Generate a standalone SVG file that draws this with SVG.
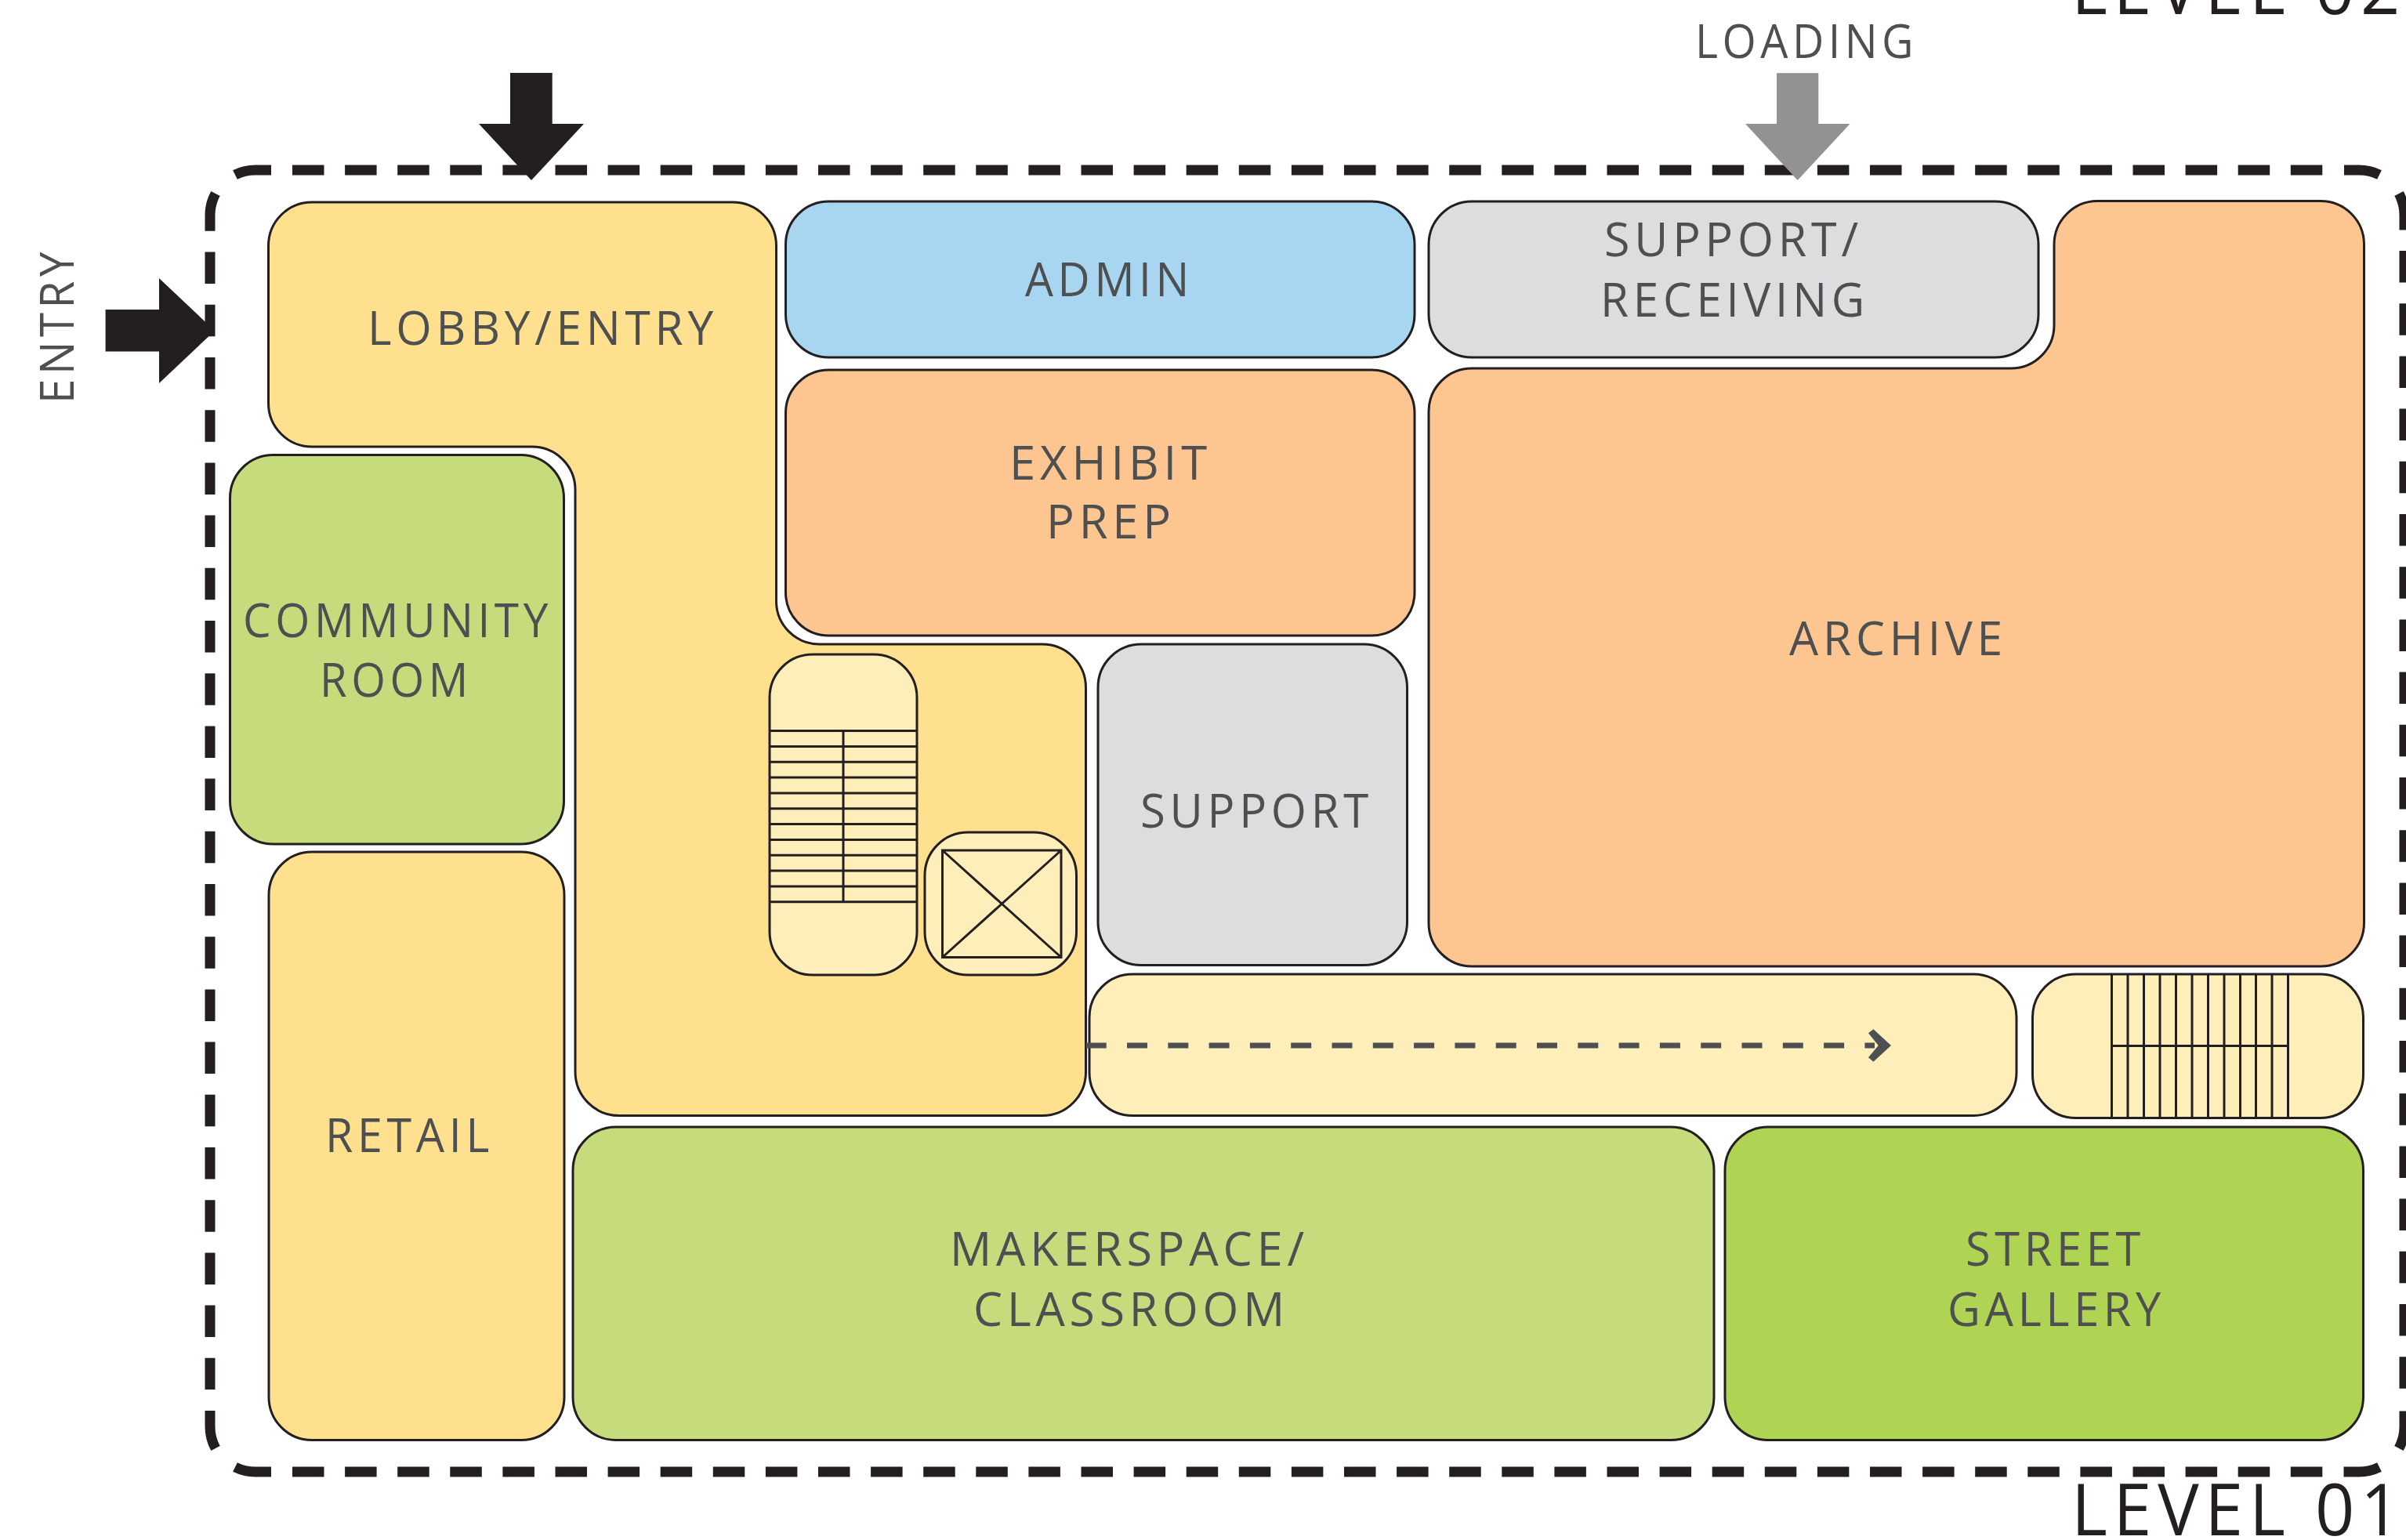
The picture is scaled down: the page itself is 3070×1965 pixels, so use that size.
<svg xmlns="http://www.w3.org/2000/svg" width="3070" height="1965" viewBox="0 0 3070 1965">
<style>
.r{stroke:#231f20;stroke-width:3}
.lobby{fill:#fee08e}.light{fill:#feeeb9}.lime{fill:#c6dc7c}.orange{fill:#fdc590}.blue{fill:#a8d5f0}.gray{fill:#dcdddf}.green{fill:#afd352}
.t{font-family:"Open Sans","Liberation Sans",sans-serif;font-size:61px;font-weight:500;letter-spacing:6px;fill:#4d4f51}
.lvl{font-family:"Open Sans","Liberation Sans",sans-serif;font-size:92px;font-weight:500;letter-spacing:8px;fill:#231f20}
.l{stroke:#231f20;stroke-width:3;fill:none}
.d{stroke:#231f20;stroke-width:13;fill:none}
</style>
<rect width="3070" height="1965" fill="#fff"/>
<g id="lobby-entry"><path class="r lobby" d="M398 258H935A55.500 55.500 0 0 1 990.500 313.500V767A55 55 0 0 0 1045.500 822H1330A55.500 55.500 0 0 1 1385.500 877.500V1368A55.500 55.500 0 0 1 1330 1423.500H790A56 56 0 0 1 734 1367.500V625A55 55 0 0 0 679 570H398A55.500 55.500 0 0 1 342.500 514.500V313.500A55.500 55.500 0 0 1 398 258Z"/><text class="t" x="469" y="439.500" textLength="447" lengthAdjust="spacingAndGlyphs">LOBBY/ENTRY</text></g>
<g id="admin"><rect class="r blue" x="1002.500" y="257" width="802.500" height="199" rx="55"/><text class="t" x="1308" y="378" textLength="215" lengthAdjust="spacingAndGlyphs">ADMIN</text></g>
<g id="exhibit-prep"><rect class="r orange" x="1002.500" y="472" width="802.500" height="339" rx="55"/><text class="t" x="1288" y="612" textLength="258" lengthAdjust="spacingAndGlyphs">EXHIBIT</text><text class="t" x="1335" y="687" textLength="165" lengthAdjust="spacingAndGlyphs">PREP</text></g>
<g id="support-receiving"><rect class="r gray" x="1823" y="257" width="778" height="199" rx="55"/><text class="t" x="2047" y="326.500" textLength="330" lengthAdjust="spacingAndGlyphs">SUPPORT/</text><text class="t" x="2042" y="404" textLength="343" lengthAdjust="spacingAndGlyphs">RECEIVING</text></g>
<g id="archive"><path class="r orange" d="M2676 256.500H2961A55.500 55.500 0 0 1 3016.500 312V1177.500A55.500 55.500 0 0 1 2961 1233H1878A55 55 0 0 1 1823 1178V525A55 55 0 0 1 1878 470H2566A55 55 0 0 0 2621 415V312A55.500 55.500 0 0 1 2676 256.500Z"/><text class="t" x="2283" y="836" textLength="278" lengthAdjust="spacingAndGlyphs">ARCHIVE</text></g>
<g id="community-room"><rect class="r lime" x="293.500" y="580.500" width="426" height="496.500" rx="55"/><text class="t" x="310" y="812.500" textLength="395" lengthAdjust="spacingAndGlyphs">COMMUNITY</text><text class="t" x="408" y="889" textLength="195" lengthAdjust="spacingAndGlyphs">ROOM</text></g>
<g id="retail"><rect class="r lobby" x="343" y="1087" width="377" height="750.500" rx="55"/><text class="t" x="415" y="1470" textLength="215" lengthAdjust="spacingAndGlyphs">RETAIL</text></g>
<g id="support"><rect class="r gray" x="1401" y="822" width="394.500" height="409.500" rx="55"/><text class="t" x="1455" y="1056" textLength="297" lengthAdjust="spacingAndGlyphs">SUPPORT</text></g>
<g id="makerspace-classroom"><rect class="r lime" x="731" y="1438" width="1456" height="399.500" rx="55"/><text class="t" x="1212" y="1615" textLength="458" lengthAdjust="spacingAndGlyphs">MAKERSPACE/</text><text class="t" x="1242" y="1691.500" textLength="403" lengthAdjust="spacingAndGlyphs">CLASSROOM</text></g>
<g id="street-gallery"><rect class="r green" x="2201" y="1438" width="814.500" height="399.500" rx="55"/><text class="t" x="2508" y="1615" textLength="229" lengthAdjust="spacingAndGlyphs">STREET</text><text class="t" x="2485" y="1691.500" textLength="278" lengthAdjust="spacingAndGlyphs">GALLERY</text></g>
<g id="corridor"><rect class="r light" x="1390" y="1243" width="1183" height="180.500" rx="55"/></g>
<g id="stair-west"><rect class="r light" x="982" y="835" width="188" height="409" rx="55"/>
<path class="l" d="M982 932.600H1170M982 952.400H1170M982 972.200H1170M982 992.100H1170M982 1011.900H1170M982 1031.700H1170M982 1051.600H1170M982 1071.400H1170M982 1091.200H1170M982 1111H1170M982 1130.900H1170M982 1150.700H1170M1076 932.600V1150.700"/></g>
<g id="elevator"><rect class="r light" x="1180" y="1062" width="193.500" height="182" rx="55"/><path class="l" d="M1202.500 1085H1354V1221.500H1202.500ZM1202.500 1085L1354 1221.500M1354 1085L1202.500 1221.500"/></g>
<g id="stair-east"><rect class="r light" x="2593.500" y="1243" width="422" height="183.500" rx="55"/>
<path class="l" d="M2694.500 1243V1426.500M2715 1243V1426.500M2735.500 1243V1426.500M2756 1243V1426.500M2776.500 1243V1426.500M2797 1243V1426.500M2817.500 1243V1426.500M2838 1243V1426.500M2858.500 1243V1426.500M2878.500 1243V1426.500M2899 1243V1426.500M2919.500 1243V1426.500M2694.500 1334.500H2918"/></g>
<g id="connectors">
<path d="M1385.700 1334H2392" fill="none" stroke="#4d4f51" stroke-width="7" stroke-dasharray="26 26.300"/>
<polygon points="2390.400,1313.300 2413,1334 2390.400,1354.700 2384,1349.300 2396.800,1334 2384,1318.300" fill="#4d4f51"/>
</g>
<g id="boundary">
<path class="d" d="M373 217H2964" stroke-dasharray="40.500 26.600"/>
<path class="d" d="M373 1878H2964" stroke-dasharray="40.500 26.600"/>
<path class="d" d="M268 321.600V1773" stroke-dasharray="40.500 26.700"/>
<path class="d" d="M3068 320V1773" stroke-dasharray="40.500 26.700"/>
<path class="d" d="M346 217H326A58 58 0 0 0 300 223"/>
<path class="d" d="M268 294.700V275A58 58 0 0 1 275 247"/>
<path class="d" d="M2991 217H3010A58 58 0 0 1 3036 223"/>
<path class="d" d="M3068 293.500V275A58 58 0 0 0 3061 247"/>
<path class="d" d="M268 1800V1820A58 58 0 0 0 275 1848"/>
<path class="d" d="M346 1878H326A58 58 0 0 1 300 1872"/>
<path class="d" d="M2990.500 1878H3010A58 58 0 0 0 3036 1872"/>
<path class="d" d="M3068 1800.500V1820A58 58 0 0 1 3061 1848"/>
</g>
<g id="entry-arrows">
<polygon points="651,93 704.700,93 704.700,158 745,158 678,230 611,158 651,158" fill="#231f20"/>
<polygon points="134.600,395 203,395 203,355 274,422 203,489 203,448.600 134.600,448.600" fill="#231f20"/>
<polygon points="2267,93.300 2320.300,93.300 2320.300,158 2360.500,158 2293.700,230 2227,158 2267,158" fill="#939192"/>
</g>
<g id="labels">
<text class="t" x="2163" y="74" textLength="284" lengthAdjust="spacingAndGlyphs">LOADING</text>
<text class="t" transform="translate(94.400 515) rotate(-90)" textLength="199" lengthAdjust="spacingAndGlyphs">ENTRY</text>
<text class="lvl" x="2643" y="1959" textLength="427" lengthAdjust="spacingAndGlyphs">LEVEL 01</text>
<text class="lvl" x="2643" y="18" textLength="427" lengthAdjust="spacingAndGlyphs">LEVEL 02</text>
</g>
</svg>
